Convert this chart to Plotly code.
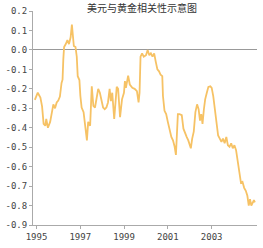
import plotly.graph_objects as go

title_text = "美元与黄金相关性示意图"

years = [1994.924, 1995.058, 1995.178, 1995.254, 1995.325, 1995.401, 1995.445, 1995.521, 1995.623, 1995.699,
         1995.770, 1995.846, 1995.922, 1995.993, 1996.069, 1996.144, 1996.189, 1996.224, 1996.260, 1996.336,
         1996.411, 1996.483, 1996.558, 1996.616, 1996.661, 1996.705, 1996.781, 1996.839, 1996.883, 1996.959,
         1997.004, 1997.061, 1997.150, 1997.226, 1997.302, 1997.360, 1997.449, 1997.524, 1997.596, 1997.671,
         1997.747, 1997.818, 1997.894, 1997.970, 1998.041, 1998.117, 1998.192, 1998.264, 1998.339, 1998.397,
         1998.459, 1998.549, 1998.620, 1998.664, 1998.727, 1998.816, 1998.905, 1998.994, 1999.038, 1999.083,
         1999.185, 1999.261, 1999.377, 1999.483, 1999.586, 1999.662, 1999.706, 1999.751, 1999.822, 1999.898,
         2000.000, 2000.076, 2000.151, 2000.223, 2000.298, 2000.374, 2000.445, 2000.521, 2000.597, 2000.668,
         2000.744, 2000.775, 2000.846, 2000.922, 2000.997, 2001.086, 2001.158, 2001.233, 2001.309, 2001.367,
         2001.411, 2001.456, 2001.532, 2001.634, 2001.710, 2001.781, 2001.857, 2001.932, 2002.004, 2002.048,
         2002.110, 2002.182, 2002.257, 2002.333, 2002.404, 2002.467, 2002.524, 2002.582, 2002.645, 2002.703,
         2002.778, 2002.850, 2002.939, 2003.001, 2003.072, 2003.161, 2003.223, 2003.295, 2003.370, 2003.446,
         2003.517, 2003.593, 2003.669, 2003.740, 2003.816, 2003.891, 2003.963, 2004.038, 2004.114, 2004.185,
         2004.230, 2004.261, 2004.337, 2004.408, 2004.484, 2004.559, 2004.630, 2004.693, 2004.751, 2004.809,
         2004.871, 2004.929, 2004.973]

correlation = [-0.257, -0.22, -0.245, -0.29, -0.38, -0.39, -0.355, -0.40, -0.37, -0.31,
               -0.28, -0.30, -0.27, -0.26, -0.24, -0.17, -0.153, -0.05, 0.015, 0.03,
               0.05, 0.03, 0.065, 0.13, 0.065, 0.02, 0.015, -0.035, -0.135, -0.155,
               -0.237, -0.296, -0.32, -0.38, -0.465, -0.37, -0.39, -0.187, -0.288, -0.296,
               -0.254, -0.20, -0.22, -0.254, -0.296, -0.305, -0.296, -0.27, -0.20, -0.263,
               -0.22, -0.355, -0.237, -0.19, -0.20, -0.346, -0.254, -0.22, -0.16, -0.195,
               -0.133, -0.178, -0.195, -0.20, -0.212, -0.27, -0.22, -0.035, -0.018, -0.035,
               -0.027, 0.0, -0.027, -0.018, -0.035, -0.018, -0.06, -0.10, -0.11, -0.128,
               -0.135, -0.237, -0.313, -0.33, -0.37, -0.42, -0.447, -0.465, -0.498, -0.54,
               -0.447, -0.33, -0.33, -0.335, -0.405, -0.43, -0.447, -0.465, -0.49, -0.506,
               -0.456, -0.42, -0.32, -0.28, -0.305, -0.363, -0.33, -0.38, -0.305, -0.254,
               -0.22, -0.19, -0.187, -0.195, -0.237, -0.32, -0.405, -0.44, -0.456, -0.473,
               -0.456, -0.48, -0.447, -0.49, -0.498, -0.48, -0.506, -0.49, -0.515, -0.566,
               -0.60, -0.624, -0.683, -0.678, -0.709, -0.724, -0.75, -0.80, -0.767, -0.80,
               -0.784, -0.772, -0.784]

x_tick_vals = [1995, 1997, 1999, 2001, 2003]
x_tick_text = ["1995", "1997", "1999", "2001", "2003"]
y_tick_vals = [0.2, 0.1, 0.0, -0.1, -0.2, -0.3, -0.4, -0.5, -0.6, -0.7, -0.8, -0.9]
y_tick_text = ["0.2", "0.1", "0.0", "-0.1", "-0.2", "-0.3", "-0.4", "-0.5", "-0.6", "-0.7", "-0.8", "-0.9"]

fig = go.Figure()
fig.add_trace(go.Scatter(
    x=years, y=correlation, mode="lines",
    line=dict(color="#F6C265", width=1.8),
    hoverinfo="skip", showlegend=False,
))

tick_font = dict(family="DejaVu Sans Mono", size=9, color="#444444")

fig.update_layout(
    width=263, height=248,
    margin=dict(l=27, r=6, t=10, b=20),
    paper_bgcolor="white", plot_bgcolor="white",
    title=dict(text=title_text, x=0.54, xanchor="center", y=1 - 8.5 / 248, yanchor="middle",
               yref="container",
               font=dict(family="Noto Sans CJK SC", size=10, color="#333333")),
    xaxis=dict(range=[1994.84, 2005.07], tickvals=x_tick_vals, ticktext=x_tick_text,
               showgrid=False, zeroline=False, showline=True, linecolor="#AAAAAA", linewidth=1,
               ticks="outside", ticklen=3, tickcolor="#AAAAAA", tickfont=tick_font),
    yaxis=dict(range=[-0.9, 0.2], tickvals=y_tick_vals, ticktext=y_tick_text,
               showgrid=False, zeroline=True, zerolinecolor="#999999", zerolinewidth=1,
               showline=True, linecolor="#AAAAAA", linewidth=1,
               ticks="outside", ticklen=3, tickcolor="#AAAAAA", tickfont=tick_font),
)

fig.write_html("out.html")
